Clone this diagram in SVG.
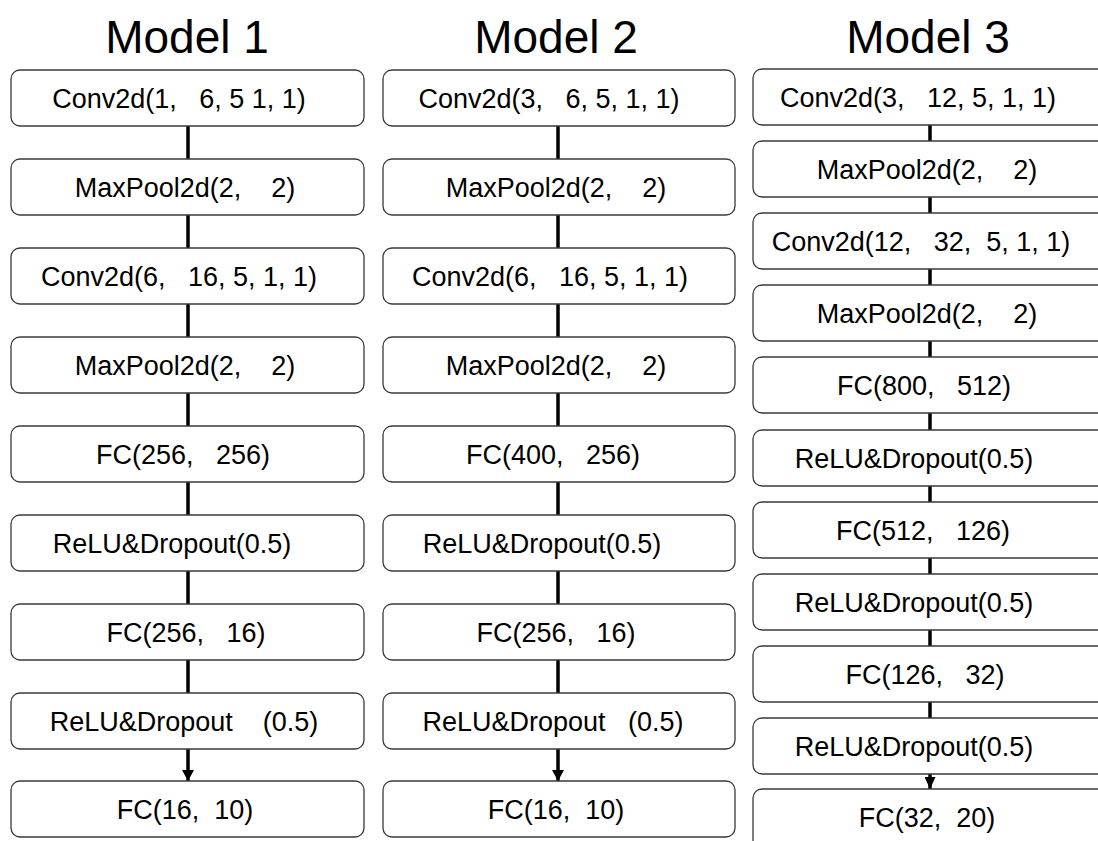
<svg xmlns="http://www.w3.org/2000/svg" width="1098" height="841" viewBox="0 0 1098 841">
  <style>
    .box { fill: #ffffff; stroke: #3a3a3a; stroke-width: 1.3; }
    .lbl { font-family: "Liberation Sans", Arial, sans-serif; font-size: 27px; fill: #000000; text-anchor: middle; white-space: pre; }
    .title { font-family: "Liberation Sans", Arial, sans-serif; font-size: 46px; fill: #000000; text-anchor: middle; }
    .conn { stroke: #000000; stroke-width: 3.5; fill: none; }
  </style>
  <defs>
    <marker id="arrow" markerUnits="userSpaceOnUse" markerWidth="12" markerHeight="12" refX="11" refY="6" orient="auto">
      <path d="M0,0 L11,6 L0,12 Z" fill="#000000"/>
    </marker>
    <marker id="arrowSmall" markerUnits="userSpaceOnUse" markerWidth="12" markerHeight="11" refX="12" refY="5.5" orient="auto">
      <path d="M0,0 L12,5.5 L0,11 Z" fill="#000000"/>
    </marker>
  </defs>

  <rect width="1098" height="841" fill="#ffffff"/>

  <!-- column headings -->
  <g id="titles">
    <text class="title" x="187" y="53">Model 1</text>
    <text class="title" x="556" y="53">Model 2</text>
    <text class="title" x="928" y="53">Model 3</text>
  </g>

  <!-- connectors -->
  <g id="connectors">
    <!-- Model 1 -->
    <line class="conn" x1="188" y1="126" x2="188" y2="159"/>
    <line class="conn" x1="188" y1="215" x2="188" y2="248"/>
    <line class="conn" x1="188" y1="304" x2="188" y2="337"/>
    <line class="conn" x1="188" y1="393" x2="188" y2="426"/>
    <line class="conn" x1="188" y1="482" x2="188" y2="515"/>
    <line class="conn" x1="188" y1="571" x2="188" y2="604"/>
    <line class="conn" x1="188" y1="660" x2="188" y2="693"/>
    <line class="conn" x1="188" y1="749" x2="188" y2="781" marker-end="url(#arrow)"/>
    <!-- Model 2 -->
    <line class="conn" x1="558" y1="126" x2="558" y2="159"/>
    <line class="conn" x1="558" y1="215" x2="558" y2="248"/>
    <line class="conn" x1="558" y1="304" x2="558" y2="337"/>
    <line class="conn" x1="558" y1="393" x2="558" y2="426"/>
    <line class="conn" x1="558" y1="482" x2="558" y2="515"/>
    <line class="conn" x1="558" y1="571" x2="558" y2="604"/>
    <line class="conn" x1="558" y1="660" x2="558" y2="693"/>
    <line class="conn" x1="558" y1="749" x2="558" y2="781" marker-end="url(#arrow)"/>
    <!-- Model 3 -->
    <line class="conn" x1="930" y1="125" x2="930" y2="141"/>
    <line class="conn" x1="930" y1="197" x2="930" y2="213"/>
    <line class="conn" x1="930" y1="269" x2="930" y2="285"/>
    <line class="conn" x1="930" y1="341" x2="930" y2="357"/>
    <line class="conn" x1="930" y1="413" x2="930" y2="430"/>
    <line class="conn" x1="930" y1="486" x2="930" y2="502"/>
    <line class="conn" x1="930" y1="558" x2="930" y2="574"/>
    <line class="conn" x1="930" y1="630" x2="930" y2="646"/>
    <line class="conn" x1="930" y1="702" x2="930" y2="718"/>
    <line class="conn" x1="930" y1="774" x2="930" y2="789" marker-end="url(#arrowSmall)"/>
  </g>

  <!-- Model 1 layers -->
  <g id="m1-conv1"><rect class="box" x="11" y="70" width="353" height="56" rx="9"/><text class="lbl" x="179" y="108">Conv2d(1,   6, 5 1, 1)</text></g>
  <g id="m1-pool1"><rect class="box" x="11" y="159" width="353" height="56" rx="9"/><text class="lbl" x="185" y="197">MaxPool2d(2,    2)</text></g>
  <g id="m1-conv2"><rect class="box" x="11" y="248" width="353" height="56" rx="9"/><text class="lbl" x="179" y="286">Conv2d(6,   16, 5, 1, 1)</text></g>
  <g id="m1-pool2"><rect class="box" x="11" y="337" width="353" height="56" rx="9"/><text class="lbl" x="185" y="375">MaxPool2d(2,    2)</text></g>
  <g id="m1-fc1"><rect class="box" x="11" y="426" width="353" height="56" rx="9"/><text class="lbl" x="183" y="464">FC(256,   256)</text></g>
  <g id="m1-act1"><rect class="box" x="11" y="515" width="353" height="56" rx="9"/><text class="lbl" x="172" y="553">ReLU&amp;Dropout(0.5)</text></g>
  <g id="m1-fc2"><rect class="box" x="11" y="604" width="353" height="56" rx="9"/><text class="lbl" x="186" y="642">FC(256,   16)</text></g>
  <g id="m1-act2"><rect class="box" x="11" y="693" width="353" height="56" rx="9"/><text class="lbl" x="184" y="731">ReLU&amp;Dropout    (0.5)</text></g>
  <g id="m1-fc3"><rect class="box" x="11" y="781" width="353" height="56" rx="9"/><text class="lbl" x="185" y="819">FC(16,  10)</text></g>

  <!-- Model 2 layers -->
  <g id="m2-conv1"><rect class="box" x="383" y="70" width="352" height="56" rx="9"/><text class="lbl" x="549" y="108">Conv2d(3,   6, 5, 1, 1)</text></g>
  <g id="m2-pool1"><rect class="box" x="383" y="159" width="352" height="56" rx="9"/><text class="lbl" x="556" y="197">MaxPool2d(2,    2)</text></g>
  <g id="m2-conv2"><rect class="box" x="383" y="248" width="352" height="56" rx="9"/><text class="lbl" x="550" y="286">Conv2d(6,   16, 5, 1, 1)</text></g>
  <g id="m2-pool2"><rect class="box" x="383" y="337" width="352" height="56" rx="9"/><text class="lbl" x="556" y="375">MaxPool2d(2,    2)</text></g>
  <g id="m2-fc1"><rect class="box" x="383" y="426" width="352" height="56" rx="9"/><text class="lbl" x="553" y="464">FC(400,   256)</text></g>
  <g id="m2-act1"><rect class="box" x="383" y="515" width="352" height="56" rx="9"/><text class="lbl" x="542" y="553">ReLU&amp;Dropout(0.5)</text></g>
  <g id="m2-fc2"><rect class="box" x="383" y="604" width="352" height="56" rx="9"/><text class="lbl" x="556" y="642">FC(256,   16)</text></g>
  <g id="m2-act2"><rect class="box" x="383" y="693" width="352" height="56" rx="9"/><text class="lbl" x="553" y="731">ReLU&amp;Dropout   (0.5)</text></g>
  <g id="m2-fc3"><rect class="box" x="383" y="781" width="352" height="56" rx="9"/><text class="lbl" x="556" y="819">FC(16,  10)</text></g>

  <!-- Model 3 layers (column runs past the right and bottom edges) -->
  <g id="m3-conv1"><rect class="box" x="753" y="69" width="370" height="56" rx="9"/><text class="lbl" x="918" y="107">Conv2d(3,   12, 5, 1, 1)</text></g>
  <g id="m3-pool1"><rect class="box" x="753" y="141" width="370" height="56" rx="9"/><text class="lbl" x="927" y="179">MaxPool2d(2,    2)</text></g>
  <g id="m3-conv2"><rect class="box" x="753" y="213" width="370" height="56" rx="9"/><text class="lbl" x="921" y="251">Conv2d(12,   32,  5, 1, 1)</text></g>
  <g id="m3-pool2"><rect class="box" x="753" y="285" width="370" height="56" rx="9"/><text class="lbl" x="927" y="323">MaxPool2d(2,    2)</text></g>
  <g id="m3-fc1"><rect class="box" x="753" y="357" width="370" height="56" rx="9"/><text class="lbl" x="924" y="395">FC(800,   512)</text></g>
  <g id="m3-act1"><rect class="box" x="753" y="430" width="370" height="56" rx="9"/><text class="lbl" x="914" y="468">ReLU&amp;Dropout(0.5)</text></g>
  <g id="m3-fc2"><rect class="box" x="753" y="502" width="370" height="56" rx="9"/><text class="lbl" x="923" y="540">FC(512,   126)</text></g>
  <g id="m3-act2"><rect class="box" x="753" y="574" width="370" height="56" rx="9"/><text class="lbl" x="914" y="612">ReLU&amp;Dropout(0.5)</text></g>
  <g id="m3-fc3"><rect class="box" x="753" y="646" width="370" height="56" rx="9"/><text class="lbl" x="925" y="684">FC(126,   32)</text></g>
  <g id="m3-act3"><rect class="box" x="753" y="718" width="370" height="56" rx="9"/><text class="lbl" x="914" y="756">ReLU&amp;Dropout(0.5)</text></g>
  <g id="m3-fc4"><rect class="box" x="753" y="789" width="370" height="60" rx="9"/><text class="lbl" x="927" y="827">FC(32,  20)</text></g>
</svg>
